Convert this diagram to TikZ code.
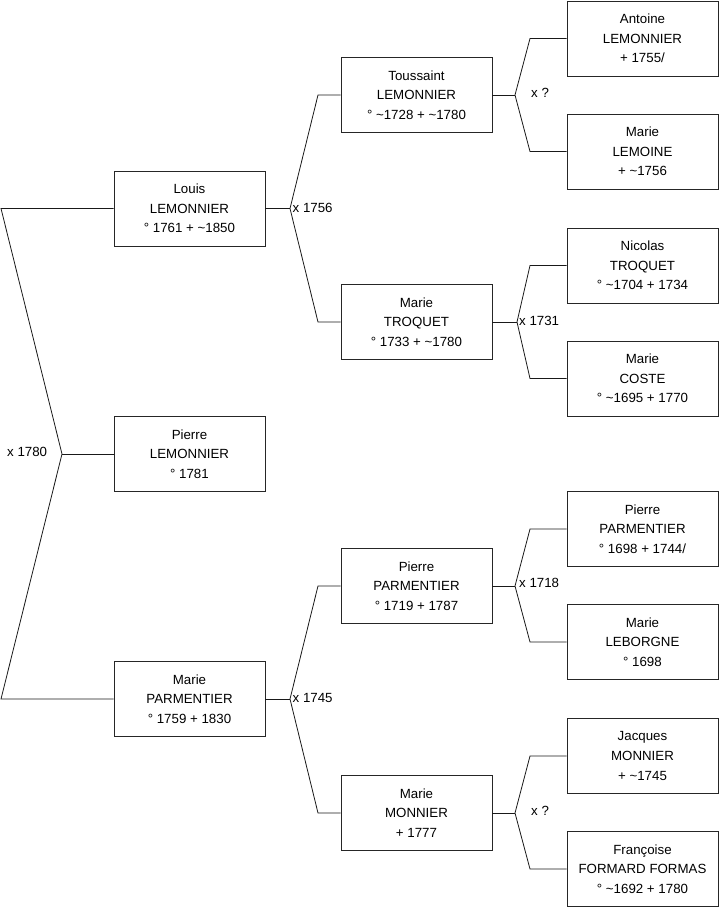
\documentclass[tikz,border=0pt]{standalone}
\usepackage{fontspec}
\setmainfont{Liberation Sans}
\begin{document}
\begin{tikzpicture}[x=1pt,y=-1pt,
  person/.style={draw=black!85, line width=0.8pt, minimum width=151pt, minimum height=75pt, inner sep=0pt, align=center, font=\fontsize{13.3}{19.7}\selectfont},
  link/.style={line width=0.8pt, black!90},
  union/.style={anchor=west, inner sep=0pt, font=\fontsize{13.3}{15}\selectfont}]
\useasboundingbox (0,0) rectangle (719,908);
% generation 1
\node[person] (louis) at (189.5,208.5) {Louis\\LEMONNIER\\° 1761 + \textasciitilde 1850};
\node[person] (pierreL) at (189.5,454) {Pierre\\LEMONNIER\\° 1781};
\node[person] (marieP) at (189.5,699) {Marie\\PARMENTIER\\° 1759 + 1830};
% generation 2
\node[person] (toussaint) at (416.5,95) {Toussaint\\LEMONNIER\\° \textasciitilde 1728 + \textasciitilde 1780};
\node[person] (marieT) at (416.5,322) {Marie\\TROQUET\\° 1733 + \textasciitilde 1780};
\node[person] (pierreP) at (416.5,586) {Pierre\\PARMENTIER\\° 1719 + 1787};
\node[person] (marieM) at (416.5,813) {Marie\\MONNIER\\+ 1777};
% generation 3
\node[person] (antoine) at (642.5,38.5) {Antoine\\LEMONNIER\\+ 1755/};
\node[person] (marieLe) at (642.5,151.5) {Marie\\LEMOINE\\+ \textasciitilde 1756};
\node[person] (nicolas) at (642.5,265.5) {Nicolas\\TROQUET\\° \textasciitilde 1704 + 1734};
\node[person] (marieC) at (642.5,378.5) {Marie\\COSTE\\° \textasciitilde 1695 + 1770};
\node[person] (pierreP2) at (642.5,529) {Pierre\\PARMENTIER\\° 1698 + 1744/};
\node[person] (marieLb) at (642.5,642) {Marie\\LEBORGNE\\° 1698};
\node[person] (jacques) at (642.5,756) {Jacques\\MONNIER\\+ \textasciitilde 1745};
\node[person] (francoise) at (642.5,869) {Françoise\\FORMARD FORMAS\\° \textasciitilde 1692 + 1780};
% union of louis and marieP
\coordinate (a0) at (62,454);
\coordinate (a0t) at (1,208.5);
\coordinate (a0b) at (1,699);
\draw[link] (louis.west) -- (a0t) -- (a0) -- (a0b) -- (marieP.west);
\draw[link] (a0) -- (pierreL.west);
\node[union] (u0) at (7,452) {x 1780};
% unions gen2
\coordinate (a1) at (290,208.5);
\coordinate (a1t) at (318,95);
\coordinate (a1b) at (318,322);
\draw[link] (toussaint.west) -- (a1t) -- (a1) -- (a1b) -- (marieT.west);
\draw[link] (a1) -- (louis.east);
\node[union] (u1) at (292.5,208) {x 1756};
\coordinate (a2) at (290,699);
\coordinate (a2t) at (318,586);
\coordinate (a2b) at (318,813);
\draw[link] (pierreP.west) -- (a2t) -- (a2) -- (a2b) -- (marieM.west);
\draw[link] (a2) -- (marieP.east);
\node[union] (u2) at (292.5,698) {x 1745};
% unions gen3
\coordinate (b1) at (515,95);
\coordinate (b1t) at (530,38.5);
\coordinate (b1b) at (530,151.5);
\draw[link] (antoine.west) -- (b1t) -- (b1) -- (b1b) -- (marieLe.west);
\draw[link] (b1) -- (toussaint.east);
\node[union] (v1) at (531,93) {x ?};
\coordinate (b2) at (517,322);
\coordinate (b2t) at (530,265.5);
\coordinate (b2b) at (530,378.5);
\draw[link] (nicolas.west) -- (b2t) -- (b2) -- (b2b) -- (marieC.west);
\draw[link] (b2) -- (marieT.east);
\node[union] (v2) at (519,321) {x 1731};
\coordinate (b3) at (515,586);
\coordinate (b3t) at (530,529);
\coordinate (b3b) at (530,642);
\draw[link] (pierreP2.west) -- (b3t) -- (b3) -- (b3b) -- (marieLb.west);
\draw[link] (b3) -- (pierreP.east);
\node[union] (v3) at (519,583) {x 1718};
\coordinate (b4) at (515,813);
\coordinate (b4t) at (530,756);
\coordinate (b4b) at (530,869);
\draw[link] (jacques.west) -- (b4t) -- (b4) -- (b4b) -- (francoise.west);
\draw[link] (b4) -- (marieM.east);
\node[union] (v4) at (531,811) {x ?};
\end{tikzpicture}
\end{document}
